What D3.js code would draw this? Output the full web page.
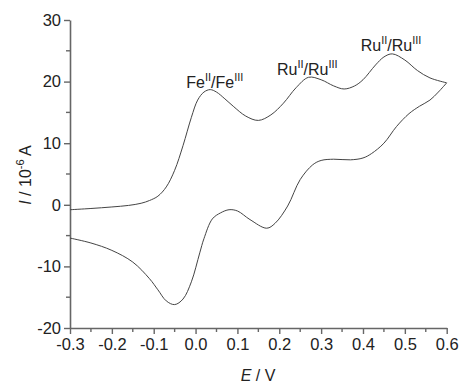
<!DOCTYPE html>
<html>
<head>
<meta charset="utf-8">
<script src="https://cdn.jsdelivr.net/npm/d3@7"></script>
<style>
  html, body { margin: 0; padding: 0; background: #fff; }
  svg { display: block; font-family: "Liberation Sans", Arial, sans-serif; }
</style>
</head>
<body>
<svg id="chart" width="459" height="385"></svg>
<script>
// Forward (anodic) scan: potential (V) and current (10^-6 A)
const forwardE = [-0.30, -0.25, -0.20, -0.16, -0.13, -0.11, -0.09, -0.07, -0.05, -0.03, -0.01, 0.005, 0.02, 0.035, 0.05, 0.07, 0.09, 0.12, 0.15, 0.18, 0.21, 0.24, 0.27, 0.30, 0.33, 0.355, 0.38, 0.40, 0.43, 0.45, 0.47, 0.50, 0.53, 0.56, 0.60];
const forwardI = [-0.8, -0.6, -0.35, -0.1, 0.25, 0.7, 1.4, 2.9, 5.6, 9.6, 14.2, 17.0, 18.3, 18.7, 18.3, 17.2, 16.0, 14.4, 13.7, 14.6, 16.5, 19.0, 20.7, 20.3, 19.3, 18.8, 19.3, 20.3, 22.7, 24.0, 24.5, 23.5, 21.8, 20.6, 19.8];
// Reverse (cathodic) scan
const reverseE = [0.60, 0.58, 0.56, 0.535, 0.51, 0.48, 0.45, 0.42, 0.40, 0.37, 0.33, 0.30, 0.28, 0.25, 0.22, 0.19, 0.17, 0.13, 0.10, 0.08, 0.06, 0.04, 0.02, 0.01, -0.01, -0.03, -0.05, -0.07, -0.09, -0.11, -0.15, -0.20, -0.25, -0.30];
const reverseI = [19.8, 18.3, 17.0, 16.0, 14.8, 12.7, 10.0, 8.3, 7.6, 7.3, 7.4, 7.2, 6.5, 4.1, -0.2, -3.0, -3.8, -2.4, -1.0, -0.8, -1.3, -2.3, -5.5, -7.8, -12.5, -15.3, -16.2, -15.6, -13.8, -12.0, -9.3, -7.4, -6.2, -5.4];

const xTicks = [-0.3, -0.2, -0.1, 0.0, 0.1, 0.2, 0.3, 0.4, 0.5, 0.6];
const xMinor = [-0.25, -0.15, -0.05, 0.05, 0.15, 0.25, 0.35, 0.45, 0.55];
const yTicks = [-20, -10, 0, 10, 20, 30];
const yMinor = [-15, -5, 5, 15, 25];

// Peak annotations: [main1, sup1, main2, sup2], anchor E, anchor I
const labelParts = [["Fe", "II", "/Fe", "III"], ["Ru", "II", "/Ru", "III"], ["Ru", "II", "/Ru", "III"]];
const labelE = [0.046, 0.267, 0.467];
const labelI = [19.0, 21.1, 24.9];

const svg = d3.select("#chart");
const x = d3.scaleLinear().domain([-0.3, 0.6]).range([70, 446.7]);
const y = d3.scaleLinear().domain([-20, 30]).range([328, 20]);
const axisColor = "#666";
const hyph = f => d => f(d).replace("\u2212", "-");

// axes
const xAxis = d3.axisBottom(x).tickValues(xTicks).tickFormat(hyph(d3.format(".1f"))).tickSize(6).tickSizeOuter(0).tickPadding(4);
const gx = svg.append("g").attr("transform", "translate(0,328)").call(xAxis);
gx.append("g").selectAll("line").data(xMinor).join("line")
  .attr("x1", d => x(d)).attr("x2", d => x(d)).attr("y1", 0).attr("y2", 4);

const yAxis = d3.axisLeft(y).tickValues(yTicks).tickFormat(hyph(d3.format("d"))).tickSize(6).tickSizeOuter(0).tickPadding(3);
const gy = svg.append("g").attr("transform", "translate(70,0)").call(yAxis);
gy.append("g").selectAll("line").data(yMinor).join("line")
  .attr("y1", d => y(d)).attr("y2", d => y(d)).attr("x1", 0).attr("x2", -4);

[gx, gy].forEach(g => {
  g.select(".domain").attr("stroke", axisColor).attr("stroke-width", 1.6);
  g.selectAll("line").attr("stroke", axisColor).attr("stroke-width", 1.4);
  g.selectAll("text").attr("fill", "#222").style("font-size", "16.5px").style("font-family", "'Liberation Sans', Arial, sans-serif");
});

// curves
const line = d3.line().x(d => x(d[0])).y(d => y(d[1])).curve(d3.curveCatmullRom.alpha(0.5));
const fwd = forwardE.map((e, i) => [e, forwardI[i]]);
const rev = reverseE.map((e, i) => [e, reverseI[i]]);
svg.append("path").datum(fwd).attr("d", line).attr("fill", "none").attr("stroke", "#444").attr("stroke-width", 1);
svg.append("path").datum(rev).attr("d", line).attr("fill", "none").attr("stroke", "#444").attr("stroke-width", 1);

// peak labels
labelParts.forEach((parts, k) => {
  const t = svg.append("text").attr("x", x(labelE[k])).attr("y", y(labelI[k]))
    .attr("text-anchor", "middle").attr("fill", "#222").style("font-size", "16px");
  t.append("tspan").text(parts[0]);
  t.append("tspan").attr("dy", -7).style("font-size", "11px").text(parts[1]);
  t.append("tspan").attr("dy", 7).text(parts[2]);
  t.append("tspan").attr("dy", -7).style("font-size", "11px").text(parts[3]);
});

// axis titles
const xt = svg.append("text").attr("x", 258).attr("y", 381).attr("text-anchor", "middle")
  .attr("fill", "#222").style("font-size", "16px");
xt.append("tspan").style("font-style", "italic").text("E");
xt.append("tspan").text(" / V");

const yt = svg.append("text").attr("transform", "translate(31,175) rotate(-90)").attr("text-anchor", "middle")
  .attr("fill", "#222").style("font-size", "16px");
yt.append("tspan").style("font-style", "italic").text("I");
yt.append("tspan").text(" / 10");
yt.append("tspan").attr("dy", -7).style("font-size", "11px").text("-6");
yt.append("tspan").attr("dy", 7).text(" A");
</script>
</body>
</html>
